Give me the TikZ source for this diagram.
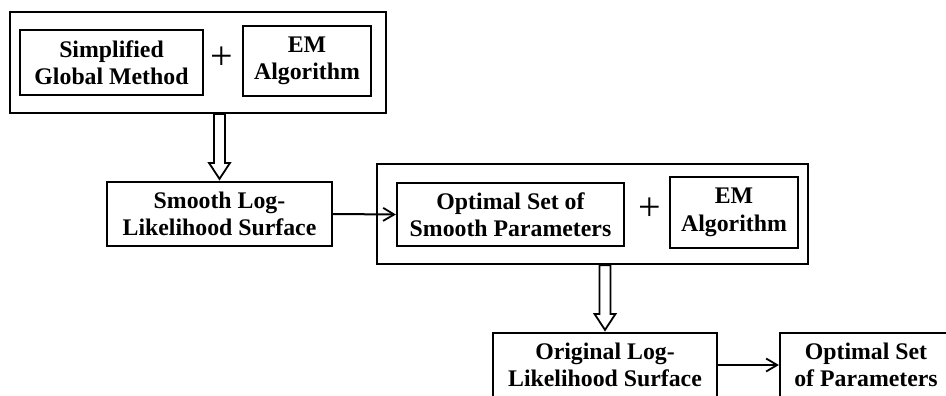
\documentclass[tikz,border=0pt]{standalone}
\usepackage{fontspec}
\setmainfont{Liberation Serif}
\usetikzlibrary{arrows.meta,calc}

% hollow block arrow pointing down from #1 to the centre top of #2
\newcommand\hollowdown[2]{%
  \draw[hollow] let \p1=(#1), \p2=(#2) in
    (\x2-5.5pt,\y1) -- (\x2-5.5pt,\y2+18pt) -- (\x2-10.5pt,\y2+18pt) --
    (\x2,\y2+2pt) -- (\x2+10.5pt,\y2+18pt) -- (\x2+5.5pt,\y2+18pt) --
    (\x2+5.5pt,\y1) -- cycle;}

\begin{document}
\begin{tikzpicture}[x=1pt,y=-1pt,
  box/.style={draw, line width=2.2pt, rectangle, inner sep=0pt, align=center,
    font=\bfseries\fontsize{23.8}{27.5}\selectfont},
  frame/.style={draw, line width=2.2pt, rectangle, inner sep=0pt},
  plussign/.style={inner sep=0pt, font=\fontsize{40}{40}\selectfont},
  link/.style={line width=2pt, -{Straight Barb[length=11pt,width=13pt,line width=1.8pt]}},
  hollow/.style={draw, line width=1.8pt, fill=white, line join=miter}]
  \useasboundingbox (0,0) rectangle (946,396);
  \clip (0,0) rectangle (946,396);

  % first stage
  \node[frame, minimum width=376pt, minimum height=101pt] (outerA) at (198,62.5) {};
  \node[box, minimum width=183pt, minimum height=65pt] (sgm) at (111.5,62.5)
    {Simplified\\Global Method};
  \node[plussign] (plusA) at (221.5,58.5) {+};
  \node[box, minimum width=128pt, minimum height=70pt] (emA) at (307,61)
    {EM\\Algorithm};

  % smoothed surface
  \node[box, minimum width=225pt, minimum height=64pt] (smooth) at (219.5,214)
    {Smooth Log-\\Likelihood Surface};

  % second stage
  \node[frame, minimum width=431pt, minimum height=100pt] (outerB) at (592.5,214) {};
  \node[box, minimum width=227pt, minimum height=63pt] (osp) at (510.5,214.5)
    {Optimal Set of\\Smooth Parameters};
  \node[plussign] (plusB) at (649.5,209.5) {+};
  \node[box, minimum width=128pt, minimum height=71pt] (emB) at (734,212.5)
    {EM\\Algorithm};

  % original surface and result
  \node[box, minimum width=224pt, minimum height=64pt] (orig) at (605,365)
    {Original Log-\\Likelihood Surface};
  \node[box, minimum width=172pt, minimum height=64pt] (ops) at (866,365)
    {Optimal Set\\of Parameters};

  % connectors
  \hollowdown{outerA.south}{smooth.north}
  \hollowdown{outerB.south}{orig.north}
  \draw[link] (smooth.east) -- (osp.west);
  \draw[link] (orig.east) -- (ops.west);
\end{tikzpicture}
\end{document}
